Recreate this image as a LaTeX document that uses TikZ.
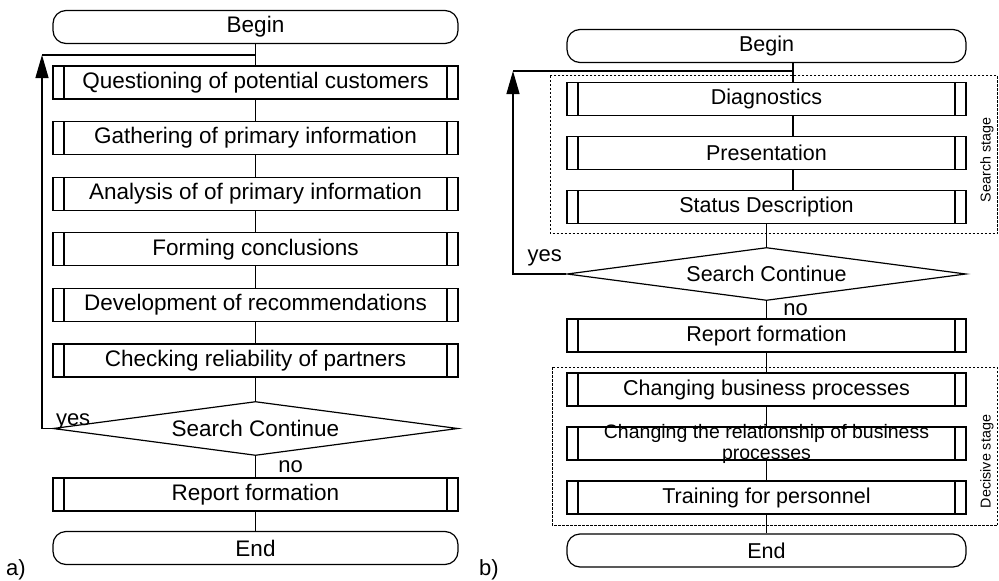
\documentclass[tikz,border=0pt]{standalone}
\usepackage{fontspec}
\setmainfont{Liberation Sans}
\usetikzlibrary{shapes.geometric,arrows.meta,positioning}
\tikzstyle{terminal} = [draw, rectangle, rounded corners=13pt, minimum height=33pt, inner sep=0pt]
\tikzstyle{process} = [draw, rectangle, minimum height=33pt, inner sep=0pt,
path picture={
	\draw ([xshift=11pt]path picture bounding box.north west) -- ([xshift=11pt]path picture bounding box.south west);
	\draw ([xshift=-11pt]path picture bounding box.north east) -- ([xshift=-11pt]path picture bounding box.south east);}]
\tikzstyle{decision} = [draw, diamond, aspect=7.5, inner sep=0pt]
\tikzstyle{stage} = [draw, dash pattern=on 2.5pt off 1.5pt, line width=1pt]
\tikzstyle{stagelabel} = [rotate=90, font=\fontsize{14.3}{16}\selectfont]
\tikzstyle{loopline} = [-{Triangle[length=23pt,width=13pt]}]

\begin{document}
\begin{tikzpicture}[x=1pt, y=1pt, line width=1.2pt, font=\fontsize{22}{24}\selectfont, node distance=55.6pt]
	\useasboundingbox (0,0) rectangle (999,-581);
	% a) the flat scheme
	\begin{scope}[font=\fontsize{22.5}{24}\selectfont,
		terminal/.append style={minimum width=405pt}, process/.append style={minimum width=405pt},
		decision/.append style={minimum width=405pt, minimum height=54pt}]
	\node [terminal] (begin1) at (255.5,-27) {Begin};
	\node [process, below of=begin1, node distance=55.5pt] (quest) {Questioning of potential customers};
	\node [process, below of=quest] (gather) {Gathering of primary information};
	\node [process, below of=gather] (analysis) {Analysis of of primary information};
	\node [process, below of=analysis] (concl) {Forming conclusions};
	\node [process, below of=concl] (recomm) {Development of recommendations};
	\node [process, below of=recomm] (partners) {Checking reliability of partners};
	\node [decision, below of=partners, node distance=68pt] (search1) {Search Continue};
	\node [process, below of=search1, node distance=66pt] (report1) {Report formation};
	\node [terminal, below of=report1, node distance=53.5pt] (end1) {End};
	\end{scope}

	\draw (begin1) -- (quest);
	\draw (quest) -- (gather);
	\draw (gather) -- (analysis);
	\draw (analysis) -- (concl);
	\draw (concl) -- (recomm);
	\draw (recomm) -- (partners);
	\draw (partners) -- (search1);
	\draw (search1) -- node [right, xshift=19pt] (no1) {no} (report1);
	\draw (report1) -- (end1);
	% going back to the start
	\coordinate (turn1) at (42,-55);
	\draw [loopline] (search1.west) -| (turn1);
	\draw (turn1) -- (turn1 -| begin1.south);
	\node [anchor=south west, inner sep=1pt] (yes1) at ([xshift=2pt,yshift=-3pt]search1.west) {yes};
	\node (tagA) at (16,-570) {a)};

	% b) the scheme with stages
	\begin{scope}[font=\fontsize{21.5}{24}\selectfont,
		terminal/.append style={minimum width=399pt}, process/.append style={minimum width=399pt},
		decision/.append style={minimum width=399pt, minimum height=53pt}]
	\node [terminal] (begin2) at (766.5,-46) {Begin};
	\node [process, below of=begin2, node distance=53pt] (diag) {Diagnostics};
	\node [process, below of=diag, node distance=53.8pt] (present) {Presentation};
	\node [process, below of=present, node distance=53.8pt] (status) {Status Description};
	\node [decision, below of=status, node distance=67.4pt] (search2) {Search Continue};
	\node [process, below of=search2, node distance=61.5pt] (report2) {Report formation};
	\node [process, below of=report2, node distance=54pt] (chbp) {Changing business processes};
	\node [process, below of=chbp, node distance=54pt,
	label={[align=center, font=\fontsize{19.5}{21}\selectfont]center:Changing the relationship of business\\processes}] (relation) {};
	\node [process, below of=relation, node distance=54pt] (train) {Training for personnel};
	\node [terminal, below of=train, node distance=53pt] (end2) {End};
	\end{scope}

	\coordinate (join2) at ([xshift=26.5pt]begin2.south);
	\draw (join2) -- ([xshift=26.5pt]diag.north);
	\draw ([xshift=26.5pt]diag.south) -- ([xshift=26.5pt]present.north);
	\draw ([xshift=26.5pt]present.south) -- ([xshift=26.5pt]status.north);
	\draw (status) -- (search2);
	\draw (search2) -- node [right, xshift=13pt] (no2) {no} (report2);
	\draw (report2) -- (chbp);
	\draw (chbp) -- (relation);
	\draw (relation) -- (train);
	\draw (train) -- (end2);
	% going back to the start
	\coordinate (turn2) at (513,-71);
	\draw [loopline] (search2.west) -| (turn2);
	\draw (turn2) -- (turn2 -| join2);
	\node [anchor=south east, inner sep=1pt] (yes2) at ([xshift=-3pt,yshift=6pt]search2.west) {yes};

	% stages
	\draw [stage] ([xshift=-16pt,yshift=6pt]diag.north west) rectangle ([xshift=31pt,yshift=-10pt]status.south east);
	\node [stagelabel] (searchlbl) at (987,-160) {Search stage};
	\draw [stage] ([xshift=-14pt,yshift=5pt]chbp.north west) rectangle ([xshift=31pt,yshift=-11pt]train.south east);
	\node [stagelabel] (decisivelbl) at (987,-461.5) {Decisive stage};
	\node (tagB) at (489,-570) {b)};
\end{tikzpicture}
\end{document}
